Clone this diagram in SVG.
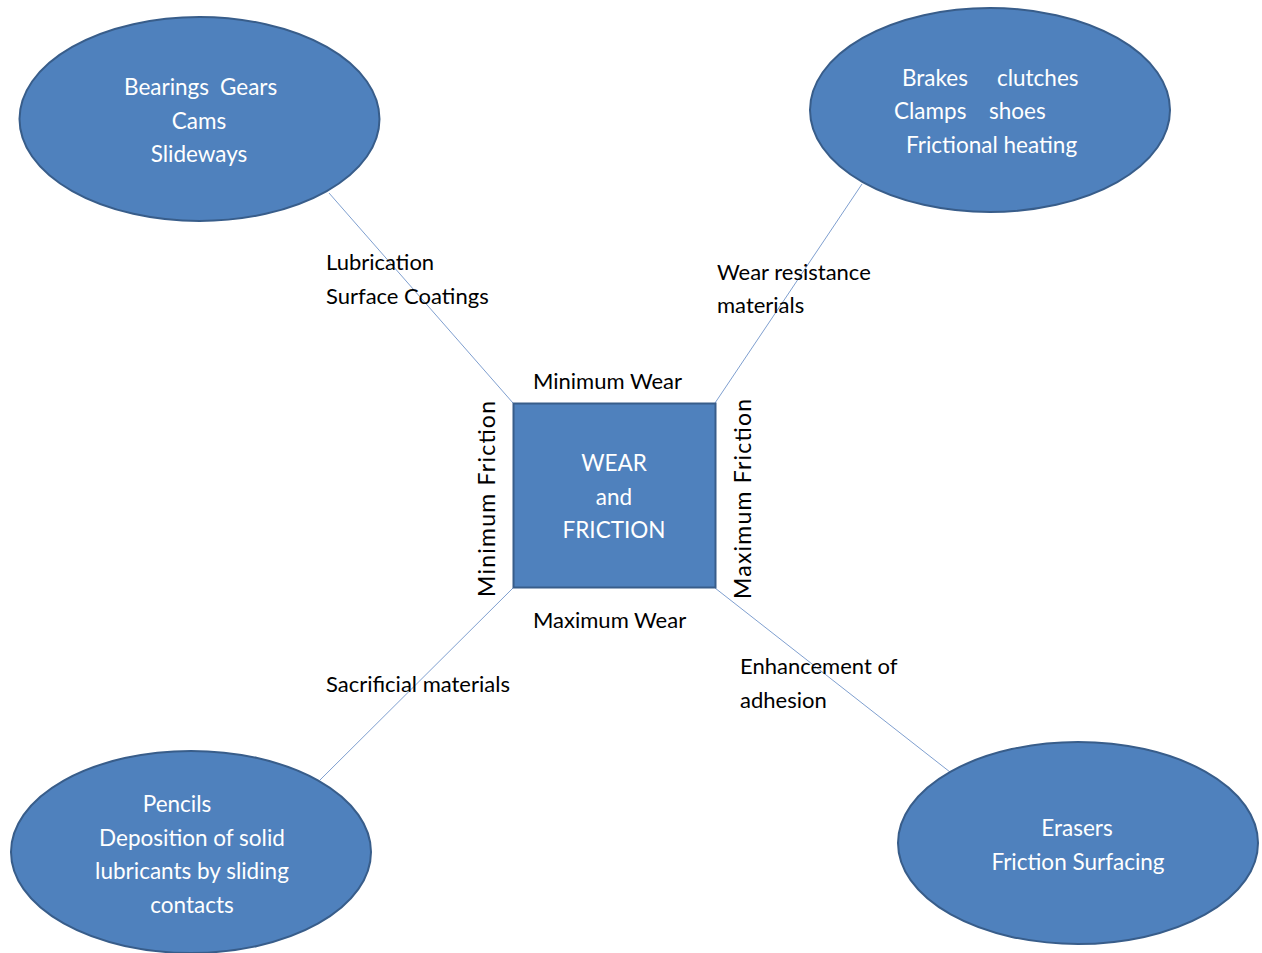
<svg xmlns="http://www.w3.org/2000/svg" width="1262" height="953" viewBox="0 0 1262 953">
<style>
.node{fill:#4F81BD;stroke:#385D8A;stroke-width:2}
.wt{font-family:Lato,"Open Sans","Liberation Sans",sans-serif;font-size:22.5px;fill:#ffffff}
.bt{font-family:Lato,"Open Sans","Liberation Sans",sans-serif;font-size:22px;fill:#000000}
.c{stroke:#7F9FCF;stroke-width:1;fill:none}
</style>
<rect width="1262" height="953" fill="#ffffff"/>
<g id="connectors">
<line class="c" x1="329" y1="193" x2="513" y2="403"/>
<line class="c" x1="862" y1="184" x2="715" y2="403"/>
<line class="c" x1="513" y1="588" x2="320" y2="780"/>
<line class="c" x1="715" y1="588" x2="950" y2="772"/>
</g>
<g id="node-tl">
<ellipse class="node" cx="199.5" cy="119" rx="180" ry="102"/>
<text class="wt" x="124" y="95">Bearings</text>
<text class="wt" x="220" y="95">Gears</text>
<text class="wt" text-anchor="middle" x="199" y="129">Cams</text>
<text class="wt" text-anchor="middle" x="199" y="162">Slideways</text>
</g>
<g id="node-tr">
<ellipse class="node" cx="990" cy="110" rx="180" ry="102"/>
<text class="wt" x="902" y="86">Brakes</text>
<text class="wt" x="997" y="86">clutches</text>
<text class="wt" x="894" y="119">Clamps</text>
<text class="wt" x="989" y="119">shoes</text>
<text class="wt" x="906" y="153">Frictional heating</text>
</g>
<g id="node-center">
<rect class="node" x="513.5" y="403.5" width="202" height="184"/>
<text class="wt" text-anchor="middle" x="614" y="471">WEAR</text>
<text class="wt" text-anchor="middle" x="614" y="505">and</text>
<text class="wt" text-anchor="middle" x="614" y="538">FRICTION</text>
</g>
<g id="node-bl">
<ellipse class="node" cx="191" cy="852" rx="180" ry="101"/>
<text class="wt" text-anchor="middle" x="177" y="812">Pencils</text>
<text class="wt" text-anchor="middle" x="192" y="846">Deposition of solid</text>
<text class="wt" text-anchor="middle" x="192" y="879">lubricants by sliding</text>
<text class="wt" text-anchor="middle" x="192" y="913">contacts</text>
</g>
<g id="node-br">
<ellipse class="node" cx="1078" cy="843" rx="180" ry="101"/>
<text class="wt" text-anchor="middle" x="1077" y="836">Erasers</text>
<text class="wt" text-anchor="middle" x="1078" y="870">Friction Surfacing</text>
</g>
<g id="labels">
<text class="bt" x="326" y="270">Lubrication</text>
<text class="bt" x="326" y="304">Surface Coatings</text>
<text class="bt" x="717" y="280">Wear resistance</text>
<text class="bt" x="717" y="313">materials</text>
<text class="bt" x="533" y="389">Minimum Wear</text>
<text class="bt" x="533" y="628">Maximum Wear</text>
<text class="bt" x="326" y="692">Sacrificial materials</text>
<text class="bt" x="740" y="674">Enhancement of</text>
<text class="bt" x="740" y="708">adhesion</text>
<text class="bt" style="font-size:23px" text-anchor="middle" textLength="196" lengthAdjust="spacing" transform="translate(495,499) rotate(-90)">Minimum Friction</text>
<text class="bt" style="font-size:23px" text-anchor="middle" textLength="200" lengthAdjust="spacing" transform="translate(751,499) rotate(-90)">Maximum Friction</text>
</g>
</svg>
